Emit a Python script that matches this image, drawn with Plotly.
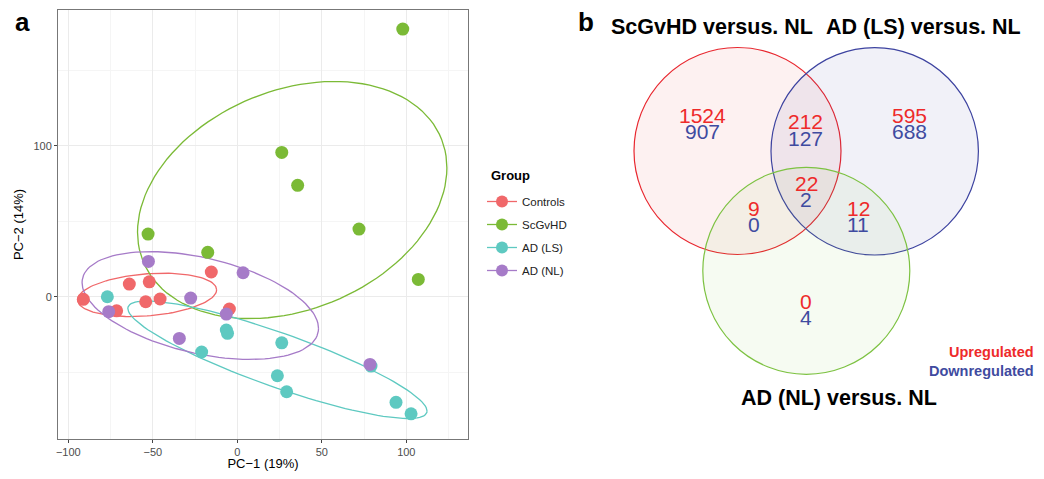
import numpy as np
import plotly.graph_objects as go

# ---------------- Data: PCA scores ----------------
groups = ["Controls", "ScGvHD", "AD (LS)", "AD (NL)"]
group_colors = ["#F0686A", "#7BBA36", "#5EC9C1", "#A67BC8"]

controls_pc1 = [-91.1, -63.9, -52.1, -15.4, -54.2, -45.7, -71.4, -4.7]
controls_pc2 = [-1.7, 8.4, 9.9, 16.4, -3.3, -1.5, -9.3, -8.1]

scgvhd_pc1 = [97.9, 26.3, 35.7, 72.0, -52.8, -17.5, 107.1]
scgvhd_pc2 = [177.3, 95.6, 73.8, 44.8, 41.5, 29.4, 11.5]

adls_pc1 = [-76.9, -6.5, -5.8, 26.3, -21.1, 79.1, 23.7, 29.2, 93.9, 102.8]
adls_pc2 = [0.0, -22.0, -24.2, -30.5, -36.6, -45.9, -52.3, -62.9, -69.9, -77.5]

adnl_pc1 = [-52.6, 3.4, -27.6, -76.1, -6.5, -34.3, 78.5]
adnl_pc2 = [23.4, 15.9, -0.9, -9.9, -11.5, -27.6, -44.8]

x_ticks = [-100, -50, 0, 50, 100]
x_tick_labels = ["\u2212100", "\u221250", "0", "50", "100"]
y_ticks = [0, 100]

# ---------------- Data: Venn counts ----------------
venn_sets = ["ScGvHD versus. NL", "AD (LS) versus. NL", "AD (NL) versus. NL"]
venn_regions = ["S only", "S&L", "L only", "S&L&N", "S&N", "L&N", "N only"]
venn_up = [1524, 212, 595, 22, 9, 12, 0]
venn_down = [907, 127, 688, 2, 0, 11, 4]

ELLIPSE_LEVEL = 0.74

# page body has an 8px margin: figure is drawn at (8, 8)
OX, OY = 8, 8
W, H = 1044 - 2 * OX, 479 - 2 * OY


def px(sx):
    return (sx - OX) / W


def py(sy):
    return 1 - (sy - OY) / H


def cov_trob(x, nu=5, maxit=25, tol=0.01):
    n, p = x.shape
    wt = np.ones(n)
    loc = x.mean(axis=0)
    w = np.sqrt(wt)
    X = x - loc
    for _ in range(maxit):
        w0 = w
        X = x - loc
        A = np.sqrt(w / w.sum())[:, None] * X
        _, d, vt = np.linalg.svd(A, full_matrices=False)
        wX = X @ vt.T @ np.diag(1.0 / d)
        Q = (wX ** 2).sum(axis=1)
        w = (wt * (nu + p)) / (nu + Q)
        loc = (w[:, None] * x).sum(axis=0) / w.sum()
        if np.all(np.abs(w - w0) < tol):
            break
    sw = np.sqrt(w)[:, None] * X
    cov = sw.T @ sw / wt.sum()
    return cov, loc


def ellipse(xs, ys, level=0.95, segments=120):
    data = np.column_stack([xs, ys]).astype(float)
    cov, center = cov_trob(data)
    dfn, dfd = 2, len(xs) - 1
    fq = dfd / 2.0 * ((1 - level) ** (-2.0 / dfd) - 1)
    radius = np.sqrt(dfn * fq)
    chol = np.linalg.cholesky(cov).T  # upper triangular, like R chol
    ang = np.arange(segments + 1) * 2 * np.pi / segments
    circ = np.column_stack([np.cos(ang), np.sin(ang)])
    e = center + radius * (circ @ chol)
    return e[:, 0], e[:, 1]


fig = go.Figure()

series = [
    (controls_pc1, controls_pc2),
    (scgvhd_pc1, scgvhd_pc2),
    (adls_pc1, adls_pc2),
    (adnl_pc1, adnl_pc2),
]

for (xs, ys), name, col in zip(series, groups, group_colors):
    ex, ey = ellipse(xs, ys, level=ELLIPSE_LEVEL)
    fig.add_trace(go.Scatter(x=ex, y=ey, mode="lines", line=dict(color=col, width=1.3),
                             showlegend=False, hoverinfo="skip", xaxis="x", yaxis="y"))
for (xs, ys), name, col in zip(series, groups, group_colors):
    fig.add_trace(go.Scatter(x=xs, y=ys, mode="markers", name=name,
                             marker=dict(color=col, size=13, line=dict(width=0)),
                             showlegend=False, xaxis="x", yaxis="y"))
for name, col in zip(groups, group_colors):
    fig.add_trace(go.Scatter(x=[None], y=[None], mode="lines+markers", name=name,
                             legendgroup=name,
                             line=dict(color=col, width=1.3),
                             marker=dict(color=col, size=12),
                             xaxis="x", yaxis="y"))

axis_line = "#777777"
fig.update_layout(
    width=W, height=H,
    margin=dict(l=0, r=0, t=0, b=0),
    paper_bgcolor="white", plot_bgcolor="white",
    font=dict(family="Liberation Sans, Arial, sans-serif", color="black"),
    xaxis=dict(domain=[px(58), px(468)], range=[-106.1, 136.5],
               tickvals=x_ticks, ticktext=x_tick_labels,
               showgrid=True, gridcolor="#EBEBEB", gridwidth=1,
               minor=dict(dtick=25, tick0=-75, showgrid=True, gridcolor="#F5F5F5", gridwidth=1),
               ticks="outside", ticklen=3, tickcolor="#444", tickfont=dict(size=11, color="#4D4D4D"),
               showline=True, linecolor=axis_line, linewidth=1, mirror=True, zeroline=False,
               title=dict(text="PC\u22121 (19%)", font=dict(size=13), standoff=7), automargin=False),
    yaxis=dict(domain=[py(439), py(10)], range=[-94.2, 189.9],
               tickvals=y_ticks, showgrid=True, gridcolor="#EBEBEB", gridwidth=1,
               minor=dict(dtick=50, tick0=-50, showgrid=True, gridcolor="#F5F5F5", gridwidth=1),
               ticks="outside", ticklen=3, tickcolor="#444", tickfont=dict(size=11, color="#4D4D4D"),
               showline=True, linecolor=axis_line, linewidth=1, mirror=True, zeroline=False,
               title=dict(text="PC\u22122 (14%)", font=dict(size=13), standoff=6), automargin=False),
    xaxis2=dict(domain=[px(580), 1], range=[580, OX + W], visible=False, fixedrange=True, anchor="y2"),
    yaxis2=dict(domain=[0, 1], range=[OY + H, OY], visible=False, fixedrange=True, anchor="x2"),
    legend=dict(x=px(482), y=py(187), xanchor="left", yanchor="top",
                font=dict(size=11.5, color="#222"), tracegroupgap=4, itemwidth=30,
                bgcolor="rgba(0,0,0,0)"),
    showlegend=True,
)

# legend title as separate text
fig.add_annotation(x=px(489), y=py(175), xref="paper", yref="paper", text="<b>Group</b>",
                   showarrow=False, font=dict(size=13, color="black"), xanchor="left", yanchor="middle")

# ---------------- Venn diagram (panel b) ----------------
circles = [
    (737.5, 151.0, 103.5, "#E8262E", "rgba(232,38,46,0.065)"),
    (874.7, 151.3, 103.7, "#3D43A0", "rgba(61,67,160,0.075)"),
    (806.3, 270.8, 103.5, "#7DC242", "rgba(125,194,66,0.07)"),
]
for cx, cy, r, lc, fc in circles:
    fig.add_shape(type="circle", xref="x2", yref="y2", x0=cx - r, x1=cx + r, y0=cy - r, y1=cy + r,
                  line=dict(color=lc, width=1.2), fillcolor=fc, layer="below")

region_pos = [(702.5, 115), (805.7, 121.7), (909.3, 115), (806, 183.3),
              (754, 208.3), (858.3, 208.3), (806, 301)]
red_txt = "#EE2A2A"
blue_txt = "#3F4BA0"
for (rx, ry), up, dn in zip(region_pos, venn_up, venn_down):
    fig.add_annotation(x=rx, y=ry, xref="x2", yref="y2", text=str(up), showarrow=False,
                       font=dict(size=21, color=red_txt), xanchor="center", yanchor="middle")
    fig.add_annotation(x=rx, y=ry + 16.5, xref="x2", yref="y2", text=str(dn), showarrow=False,
                       font=dict(size=21, color=blue_txt), xanchor="center", yanchor="middle")

title_pos = [(711.7, 27), (923, 27), (838.8, 398.3)]
for (tx, ty), t in zip(title_pos, venn_sets):
    fig.add_annotation(x=tx, y=ty, xref="x2", yref="y2", text="<b>" + t + "</b>", showarrow=False,
                       font=dict(size=21.5, color="black"), xanchor="center", yanchor="middle")

fig.add_annotation(x=1036, y=352, xref="x2", yref="y2", text="<b>Upregulated</b>", showarrow=False,
                   font=dict(size=14.5, color=red_txt), xanchor="right", yanchor="middle")
fig.add_annotation(x=1036, y=370.7, xref="x2", yref="y2", text="<b>Downregulated</b>", showarrow=False,
                   font=dict(size=14.5, color=blue_txt), xanchor="right", yanchor="middle")

# panel labels
fig.add_annotation(x=px(22), y=py(22), xref="paper", yref="paper", text="<b>a</b>",
                   showarrow=False, font=dict(size=26, color="black"), xanchor="center", yanchor="middle")
fig.add_annotation(x=px(586), y=py(22), xref="paper", yref="paper", text="<b>b</b>",
                   showarrow=False, font=dict(size=26, color="black"), xanchor="center", yanchor="middle")

fig.write_html("out.html")
